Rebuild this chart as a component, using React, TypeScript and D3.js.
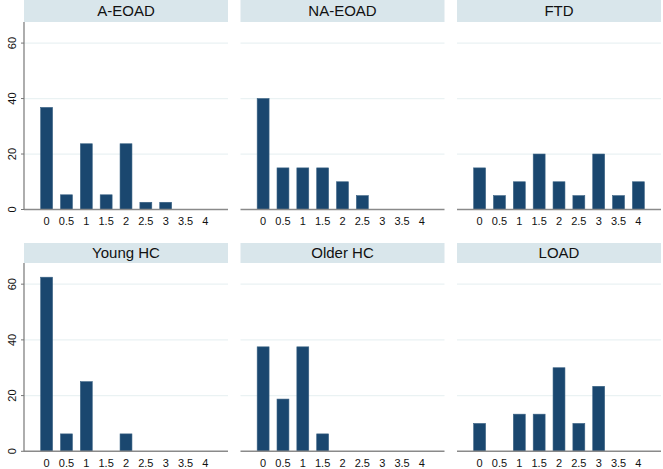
import * as d3 from 'd3';
import React, { useEffect, useRef } from 'react';

// x categories (score) and share of each group (%)
const scores = ['0', '0.5', '1', '1.5', '2', '2.5', '3', '3.5', '4'];
const groups = ['A-EOAD', 'NA-EOAD', 'FTD', 'Young HC', 'Older HC', 'LOAD'];

const aEoad = [36.8, 5.3, 23.7, 5.3, 23.7, 2.6, 2.6, 0, 0];
const naEoad = [40, 15, 15, 15, 10, 5, 0, 0, 0];
const ftd = [15, 5, 10, 20, 10, 5, 20, 5, 10];
const youngHc = [62.5, 6.25, 25, 0, 6.25, 0, 0, 0, 0];
const olderHc = [37.5, 18.75, 37.5, 6.25, 0, 0, 0, 0, 0];
const load = [10, 0, 13.33, 13.33, 30, 10, 23.33, 0, 0];

const series = [aEoad, naEoad, ftd, youngHc, olderHc, load];
const yTicks = [0, 20, 40, 60];

const W = 663;
const H = 469;

const App: React.FC = () => {
  const ref = useRef<SVGSVGElement>(null);

  useEffect(() => {
    if (!ref.current) return;
    const svg = d3.select(ref.current);
    svg.selectAll('*').remove();

    const panelW = 204;
    const lefts = [24, 240.5, 457];
    const rows = [
      { stripTop: 0, top: 22, base: 209.5 },
      { stripTop: 243, top: 263, base: 451.3 },
    ];
    const font = 'Arial, "Liberation Sans", sans-serif';

    groups.forEach((name, i) => {
      const col = i % 3;
      const row = rows[Math.floor(i / 3)];
      const x0 = lefts[col];

      const x = d3.scaleLinear().domain([-0.57, 4.57]).range([x0, x0 + panelW]);
      const y = d3.scaleLinear().domain([0, 67.6]).range([row.base, row.top]);

      const g = svg.append('g');

      // strip title
      g.append('rect')
        .attr('x', x0)
        .attr('y', row.stripTop)
        .attr('width', panelW)
        .attr('height', row.top - row.stripTop)
        .attr('fill', '#d9e6eb');
      g.append('text')
        .attr('x', x0 + panelW / 2)
        .attr('y', (row.stripTop + row.top) / 2)
        .attr('dy', '0.36em')
        .attr('text-anchor', 'middle')
        .attr('font-family', font)
        .attr('font-size', 15)
        .attr('font-weight', 'normal')
        .attr('fill', '#111')
        .text(name);

      // grid
      g.selectAll('.grid')
        .data(yTicks.filter(t => t > 0))
        .enter()
        .append('line')
        .attr('x1', x0)
        .attr('x2', x0 + panelW)
        .attr('y1', d => y(d))
        .attr('y2', d => y(d))
        .attr('stroke', '#eaf2f3')
        .attr('stroke-width', 1.2);

      // bars
      const bw = 0.3;
      g.selectAll('.bar')
        .data(series[i].map((v, k) => ({ v, s: +scores[k] })).filter(d => d.v > 0))
        .enter()
        .append('rect')
        .attr('x', d => x(d.s - bw / 2))
        .attr('width', x(bw) - x(0))
        .attr('y', d => y(d.v))
        .attr('height', d => row.base - y(d.v))
        .attr('fill', '#1a476f')
        .attr('stroke', '#3a6284')
        .attr('stroke-width', 0.6);

      // baseline
      g.append('line')
        .attr('x1', x0)
        .attr('x2', x0 + panelW)
        .attr('y1', row.base)
        .attr('y2', row.base)
        .attr('stroke', '#8a8a8a')
        .attr('stroke-width', 1.5);

      // x labels
      g.selectAll('.xl')
        .data(scores)
        .enter()
        .append('text')
        .attr('x', d => x(+d))
        .attr('y', row.base + 12)
        .attr('dy', '0.36em')
        .attr('text-anchor', 'middle')
        .attr('font-family', font)
        .attr('font-size', 11)
        .attr('fill', '#111')
        .text(d => d);

      // y axis on first column
      if (col === 0) {
        g.append('line')
          .attr('x1', x0)
          .attr('x2', x0)
          .attr('y1', row.top)
          .attr('y2', row.base)
          .attr('stroke', '#777')
          .attr('stroke-width', 1.2);
        g.selectAll('.yt')
          .data(yTicks)
          .enter()
          .append('line')
          .attr('x1', x0 - 3)
          .attr('x2', x0)
          .attr('y1', d => y(d))
          .attr('y2', d => y(d))
          .attr('stroke', '#777')
          .attr('stroke-width', 1);
        g.selectAll('.yl')
          .data(yTicks)
          .enter()
          .append('text')
          .attr('transform', d => `translate(${x0 - 8},${y(d)}) rotate(-90)`)
          .attr('text-anchor', 'middle')
          .attr('font-family', font)
          .attr('font-size', 11)
          .attr('fill', '#111')
          .text(d => d);
      }
    });
  }, []);

  return (
    <svg
      ref={ref}
      width={W}
      height={H}
      style={{ position: 'absolute', left: 0, top: 0, background: '#fff' }}
    />
  );
};

export default App;
